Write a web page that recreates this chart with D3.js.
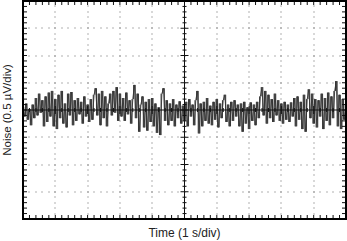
<!DOCTYPE html>
<html>
<head>
<meta charset="utf-8">
<script src="https://cdn.jsdelivr.net/npm/d3@7"></script>
<style>
  body { margin: 0; background: #fff; }
  text { font-family: "Liberation Sans", Arial, sans-serif; fill: #222; }
</style>
</head>
<body>
<script>
// noise trace in µV, one sample every 0.05 s over 10 s
var noise = [
  0.05,-0.12,0.12,-0.18,0.02,-0.28,0.1,-0.15,0.22,-0.1,
  0.3,-0.05,0.18,-0.3,0.25,-0.22,0.32,-0.12,0.35,-0.3,
  0.2,-0.35,0.28,-0.15,0.35,-0.25,0.12,-0.32,0.3,-0.1,
  0.33,-0.28,0.18,-0.2,0.22,-0.08,0.15,-0.25,0.25,-0.12,
  0.1,-0.22,0.2,-0.18,0.28,0.4,-0.1,0.3,-0.28,0.35,
  -0.15,0.25,-0.3,0.12,0.3,-0.1,0.35,-0.05,0.42,-0.2,
  0.3,-0.12,0.22,-0.2,0.32,-0.08,0.18,-0.25,0.2,0.46,
  -0.15,0.3,-0.4,0.1,0.25,-0.32,0.15,-0.38,0.2,-0.22,
  0.22,-0.3,0.12,-0.42,0.05,-0.46,0.3,0.4,-0.2,0.18,
  -0.28,0.12,-0.2,0.2,-0.3,0.1,-0.15,0.16,-0.25,0.08,
  -0.2,0.15,-0.3,0.2,-0.12,0.1,-0.28,0.18,0.35,-0.43,
  0.12,-0.3,0.15,-0.2,0.22,-0.25,0.08,-0.28,0.15,-0.18,
  0.2,-0.32,0.12,-0.15,0.18,0.28,-0.22,0.1,-0.3,0.15,
  -0.2,0.18,-0.12,0.1,-0.3,0.12,-0.4,0.15,-0.25,0.05,
  -0.35,0.14,-0.2,0.1,-0.28,0.15,-0.15,0.25,0.42,-0.1,
  0.35,-0.25,0.28,-0.15,0.2,-0.22,0.3,-0.1,0.18,-0.2,
  0.12,-0.25,0.15,-0.18,0.1,-0.22,0.14,-0.12,0.22,-0.3,
  0.25,-0.18,0.15,-0.35,0.28,-0.4,0.2,0.38,-0.15,0.3,
  -0.25,0.2,-0.32,0.18,-0.12,0.3,-0.35,0.22,-0.2,0.32,
  -0.28,0.25,-0.15,0.35,0.53,-0.3,0.28,-0.35,0.2,-0.18,
  0.1
]
var dt = 0.05
var timeDivs = [0,1,2,3,4,5,6,7,8,9,10]
var voltDivs = [-2,-1.5,-1,-0.5,0,0.5,1,1.5,2]
var xLabel = 'Time (1 s/div)'
var yLabel = 'Noise (0.5 \u00b5V/div)'

var W = 347, H = 241
var x = d3.scaleLinear().domain([0, 10]).range([23, 346])
var y = d3.scaleLinear().domain([-2, 2]).range([219, 1])

var svg = d3.select('body').append('svg')
  .attr('width', W)
  .attr('height', H)

var minorT = d3.range(0, 50.5, 1).map(function(d){ return d / 5 })
var minorV = d3.range(0, 40.5, 1).map(function(d){ return -2 + d / 10 })

// dotted grid
var grid = svg.append('g').attr('fill', '#666')
timeDivs.slice(1, -1).filter(function(d){ return d !== 5 }).forEach(function(t){
  grid.selectAll(null).data(minorV.slice(1, -1)).enter().append('rect')
    .attr('x', Math.round(x(t)) - 0.5).attr('y', function(v){ return Math.round(y(v)) - 0.5 })
    .attr('width', 1).attr('height', 1)
})
voltDivs.slice(1, -1).filter(function(d){ return d !== 0 }).forEach(function(v){
  grid.selectAll(null).data(minorT.slice(1, -1)).enter().append('rect')
    .attr('x', function(t){ return Math.round(x(t)) - 0.5 }).attr('y', Math.round(y(v)) - 0.5)
    .attr('width', 1).attr('height', 1)
})

// trace: scope-style vertical strokes between consecutive samples plus the joining line
var trace = svg.append('g').attr('stroke', '#333').attr('fill', 'none')
trace.selectAll('.seg').data(noise.slice(0, -1)).enter().append('line')
  .attr('x1', function(d, i){ return x((i + 0.5) * dt) })
  .attr('x2', function(d, i){ return x((i + 0.5) * dt) })
  .attr('y1', function(d){ return y(d) })
  .attr('y2', function(d, i){ return y(noise[i + 1]) })
  .attr('stroke-width', 1)
var line = d3.line()
  .x(function(d, i){ return x(i * dt) })
  .y(function(d){ return y(d) })
trace.append('path')
  .datum(noise)
  .attr('d', line)
  .attr('stroke-width', 0.9)

// centre axes with cross ticks
var ax = svg.append('g').attr('stroke', '#111').attr('stroke-width', 1)
ax.append('line').attr('x1', x(0)).attr('x2', x(10)).attr('y1', y(0)).attr('y2', y(0))
ax.append('line').attr('x1', x(5)).attr('x2', x(5)).attr('y1', y(-2)).attr('y2', y(2))
ax.selectAll('.ct').data(minorT).enter().append('line')
  .attr('x1', function(t){ return x(t) }).attr('x2', function(t){ return x(t) })
  .attr('y1', function(t){ return y(0) - (Math.abs(t - Math.round(t)) < 1e-6 ? 4 : 2) })
  .attr('y2', function(t){ return y(0) + (Math.abs(t - Math.round(t)) < 1e-6 ? 4 : 2) })
ax.selectAll('.cv').data(minorV).enter().append('line')
  .attr('y1', function(v){ return y(v) }).attr('y2', function(v){ return y(v) })
  .attr('x1', function(v){ return x(5) - (Math.abs(v * 2 - Math.round(v * 2)) < 1e-6 ? 4 : 2) })
  .attr('x2', function(v){ return x(5) + (Math.abs(v * 2 - Math.round(v * 2)) < 1e-6 ? 4 : 2) })

// frame ticks, pointing inward
var fr = svg.append('g').attr('stroke', '#111').attr('stroke-width', 1)
fr.selectAll('.bt').data(minorT).enter().append('line')
  .attr('x1', function(t){ return x(t) }).attr('x2', function(t){ return x(t) })
  .attr('y1', y(-2)).attr('y2', y(-2) - 4)
fr.selectAll('.tt').data(minorT).enter().append('line')
  .attr('x1', function(t){ return x(t) }).attr('x2', function(t){ return x(t) })
  .attr('y1', y(2)).attr('y2', y(2) + 4)
fr.selectAll('.lt').data(minorV).enter().append('line')
  .attr('y1', function(v){ return y(v) }).attr('y2', function(v){ return y(v) })
  .attr('x1', x(0)).attr('x2', x(0) + 4)
fr.selectAll('.rt').data(minorV).enter().append('line')
  .attr('y1', function(v){ return y(v) }).attr('y2', function(v){ return y(v) })
  .attr('x1', x(10)).attr('x2', x(10) - 4)

svg.append('rect')
  .attr('x', x(0)).attr('y', y(2))
  .attr('width', x(10) - x(0)).attr('height', y(-2) - y(2))
  .attr('fill', 'none').attr('stroke', '#000').attr('stroke-width', 2)

svg.append('text')
  .attr('x', x(5)).attr('y', 237)
  .attr('text-anchor', 'middle')
  .attr('font-size', 12)
  .text(xLabel)

svg.append('text')
  .attr('transform', 'translate(11,' + y(0) + ') rotate(-90)')
  .attr('text-anchor', 'middle')
  .attr('font-size', 11.5)
  .text(yLabel)
</script>
</body>
</html>
